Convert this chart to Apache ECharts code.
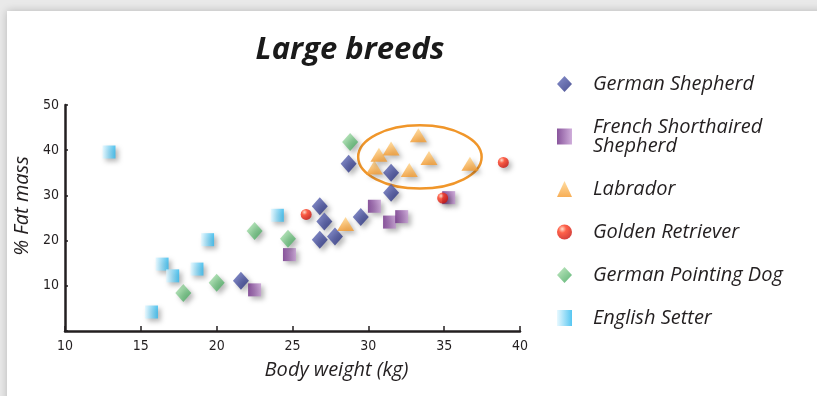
<!DOCTYPE html>
<html><head><meta charset="utf-8">
<script src="https://cdn.jsdelivr.net/npm/echarts@6/dist/echarts.min.js"></script>
<style>html,body{margin:0;padding:0;background:#fff}#c{width:817px;height:396px}</style>
</head><body><div id="c"></div>
<script>
const title = 'Large breeds';
const xTicks = [10, 15, 20, 25, 30, 35, 40];
const yTicks = [0, 10, 20, 30, 40, 50];
const seriesNames = ['German Shepherd', 'French Shorthaired\nShepherd', 'Labrador', 'Golden Retriever', 'German Pointing Dog', 'English Setter'];
const germanShepherd = [[21.6, 11.1], [26.8, 27.6], [27.1, 24.2], [26.8, 20.2], [27.8, 20.9], [29.5, 25.2], [28.7, 37.0], [31.5, 35.0], [31.5, 30.6]];
const frenchShorthaired = [[22.5, 9.1], [24.8, 16.9], [30.4, 27.6], [31.4, 24.1], [32.2, 25.3], [35.3, 29.5]];
const labrador = [[28.5, 23.7], [30.4, 36.2], [30.7, 39.0], [31.5, 40.4], [33.3, 43.3], [34.0, 38.3], [32.7, 35.6], [36.7, 37.0]];
const goldenRetriever = [[25.9, 25.8], [34.9, 29.4], [38.9, 37.3]];
const germanPointing = [[17.8, 8.4], [20.0, 10.7], [22.5, 22.1], [24.7, 20.4], [28.8, 41.8]];
const englishSetter = [[12.9, 39.6], [16.4, 14.8], [17.1, 12.2], [18.7, 13.7], [19.4, 20.2], [15.7, 4.2], [24.0, 25.6]];
// highlighted cluster: centre x, centre y, half-width (kg), half-height (%)
const highlight = [[33.4, 38.5, 4.07, 7.0]];

const lin = (a, b, x2, y2) => new echarts.graphic.LinearGradient(0, 0, x2, y2, [{offset: 0, color: a}, {offset: 1, color: b}]);
const shadow = {shadowBlur: 5, shadowColor: 'rgba(0,0,0,0.35)', shadowOffsetX: 3, shadowOffsetY: 3};
const styles = [
  {symbol: 'diamond', size: [16, 18], color: lin('#6a74c0', '#1e2676', 1, 1)},
  {symbol: 'rect', size: 13, color: lin('#6b2a83', '#c49ad2', 1, 0)},
  {symbol: 'triangle', size: [17, 14], color: lin('#ffd48a', '#f59a2c', 0, 1)},
  {symbol: 'circle', size: 11, color: new echarts.graphic.RadialGradient(0.35, 0.3, 0.75, [{offset: 0, color: '#ffd6c0'}, {offset: 0.35, color: '#ff3a1c'}, {offset: 1, color: '#c8100c'}])},
  {symbol: 'diamond', size: [16, 18], color: lin('#b8e6b8', '#33a050', 1, 1)},
  {symbol: 'rect', size: 13, color: lin('#e2f7ff', '#2cb8ee', 1, 0)}
];
const datas = [germanShepherd, frenchShorthaired, labrador, goldenRetriever, germanPointing, englishSetter];

const series = seriesNames.map((n, i) => ({
  name: n, type: 'scatter', data: datas[i], symbol: styles[i].symbol, symbolSize: styles[i].size,
  itemStyle: Object.assign({color: styles[i].color}, shadow), z: 3
}));
series.push({
  type: 'custom', name: 'cluster', data: highlight, encode: {x: 0, y: 1}, silent: true, z: 2,
  renderItem: (params, api) => {
    const c = api.coord([api.value(0), api.value(1)]);
    const s = api.size([api.value(2), api.value(3)]);
    return {type: 'ellipse', shape: {cx: c[0], cy: c[1], rx: s[0], ry: s[1]},
      style: {fill: null, stroke: '#f0962a', lineWidth: 2.5}};
  }
});

const tickFont = "'Liberation Sans Narrow','DejaVu Sans Condensed',sans-serif";
const textFont = "'Open Sans',sans-serif";
const chart = echarts.init(document.getElementById('c'), null, {renderer: 'canvas'});
chart.setOption({
  backgroundColor: '#e9e9e9',
  animation: false,
  graphic: [
    {type: 'rect', shape: {x: 7, y: 11, width: 830, height: 400}, style: {fill: '#fff', shadowBlur: 8, shadowColor: 'rgba(0,0,0,0.22)'}, z: -10}
  ],
  title: {text: title, left: 345, top: 30, textAlign: 'center',
    textStyle: {fontFamily: textFont, fontStyle: 'italic', fontWeight: 'bold', fontSize: 31, color: '#1a1a1a'}},
  legend: {
    data: seriesNames, orient: 'vertical', left: 552, top: 69, itemGap: 23, itemWidth: 15, itemHeight: 16,
    textStyle: {fontFamily: textFont, fontStyle: 'italic', fontSize: 20, lineHeight: 19, color: '#231f20', padding: [0, 0, 0, 16]}
  },
  grid: {left: 65, right: 297, top: 105, bottom: 65},
  xAxis: {
    type: 'value', min: xTicks[0], max: xTicks[xTicks.length - 1], interval: 5,
    name: 'Body weight (kg)', nameLocation: 'middle', nameGap: 29,
    nameTextStyle: {fontFamily: textFont, fontStyle: 'italic', fontSize: 20, color: '#231f20', padding: [0, 0, 0, 88]},
    axisLine: {lineStyle: {color: '#231f20', width: 2.5}},
    axisTick: {inside: true, length: 5, lineStyle: {color: '#231f20', width: 1.5}},
    axisLabel: {fontFamily: tickFont, fontSize: 14, color: '#231f20', margin: 8},
    splitLine: {show: false}
  },
  yAxis: {
    type: 'value', min: yTicks[0], max: yTicks[yTicks.length - 1], interval: 10,
    name: '% Fat mass', nameLocation: 'middle', nameGap: 22, nameRotate: 90,
    nameTextStyle: {fontFamily: textFont, fontStyle: 'italic', fontSize: 20, color: '#231f20', padding: [0, 0, 0, 24]},
    axisLine: {show: true, lineStyle: {color: '#231f20', width: 2.5}},
    axisTick: {show: true, inside: true, length: 3, lineStyle: {color: '#231f20', width: 1.5}},
    axisLabel: {fontFamily: tickFont, fontSize: 14, color: '#231f20', margin: 6, formatter: v => v === 0 ? '' : String(v)},
    splitLine: {show: false}
  },
  series: series
});
</script></body></html>
